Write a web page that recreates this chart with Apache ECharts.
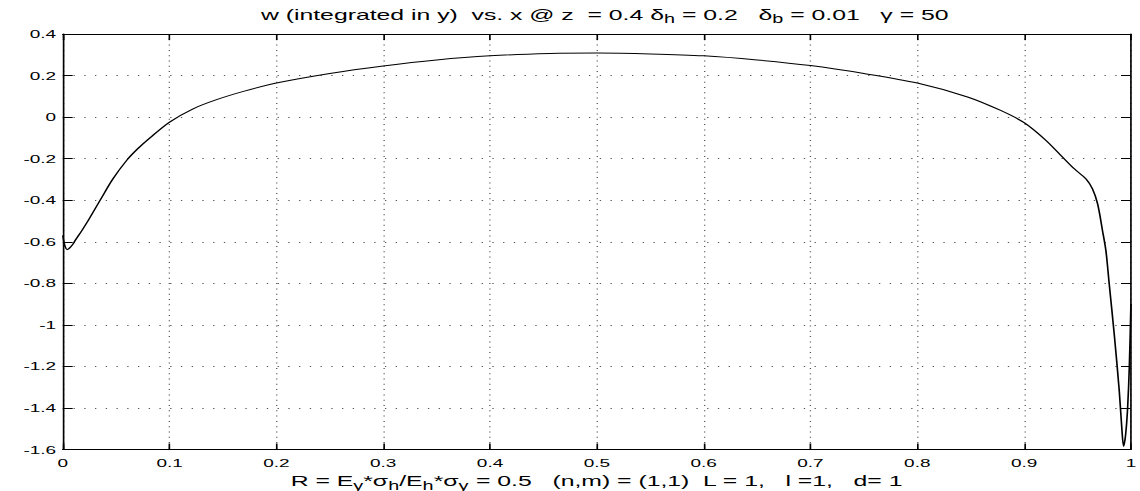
<!DOCTYPE html>
<html>
<head>
<meta charset="utf-8">
<script src="https://cdn.jsdelivr.net/npm/echarts@6/dist/echarts.min.js"></script>
<style>
  html, body { margin: 0; padding: 0; background: #fff; overflow: hidden; }
  /* the reference is a stretched export: draw narrow, then widen */
  #chart { width: 690px; height: 491px; transform: scaleX(1.6522); transform-origin: 0 0; }
</style>
</head>
<body>
<div id="chart"></div>
<script>
// curve
var xs = [0, 0.001, 0.002, 0.004, 0.006, 0.009, 0.0117, 0.018, 0.024, 0.035, 0.047, 0.06, 0.07, 0.0816,
  0.1, 0.122, 0.144, 0.17, 0.2, 0.25, 0.3, 0.35, 0.4, 0.456, 0.5, 0.55, 0.6, 0.65, 0.7, 0.75, 0.8,
  0.847, 0.878, 0.9, 0.92, 0.934, 0.947, 0.958, 0.964, 0.9688, 0.9734, 0.9766, 0.9797, 0.9844,
  0.9891, 0.9915, 0.9931, 0.995, 0.9969, 0.9985, 1];
var ws = [-0.57, -0.60, -0.62, -0.638, -0.632, -0.615, -0.593, -0.545, -0.496, -0.40, -0.297, -0.207, -0.153, -0.10,
  -0.024, 0.040, 0.084, 0.125, 0.164, 0.21, 0.246, 0.275, 0.295, 0.306, 0.308, 0.304, 0.295, 0.275, 0.248, 0.21, 0.164,
  0.097, 0.032, -0.027, -0.11, -0.182, -0.249, -0.298, -0.346, -0.418, -0.547, -0.644, -0.805, -1.046,
  -1.32, -1.50, -1.585, -1.53, -1.40, -1.20, -0.9];
var xTicks = [0, 1, 0.1];
var yTicks = [-1.6, 0.4, 0.2];

var font = 'Liberation Sans, Arial, Helvetica, sans-serif';
var rich = {
  t: { fontSize: 15, fontFamily: font, fontWeight: 'normal', color: '#000' },
  s: { fontSize: 12, fontFamily: font, fontWeight: 'normal', color: '#000', padding: [9, 0, 0, 0] }
};

var chart = echarts.init(document.getElementById('chart'), null, { renderer: 'svg' });
var pts = xs.map(function (x, i) { return [x, ws[i]]; });

function boxAxis(pos, tickLen, range) {
  return {
    type: 'value', position: pos, min: range[0], max: range[1], interval: range[2],
    axisLine: { show: true, onZero: false, lineStyle: { color: '#000', width: 1 } },
    axisTick: { show: true, inside: true, length: tickLen, lineStyle: { color: '#000' } },
    axisLabel: { show: false },
    splitLine: { show: false }
  };
}

chart.setOption({
  animation: false,
  backgroundColor: '#fff',
  title: {
    text: '{t|w (integrated in y)  vs. x @ z  = 0.4 δ}{s|h}{t| = 0.2   δ}{s|b}{t| = 0.01   γ = 50}',
    left: 361, top: -1, textAlign: 'center',
    textStyle: { rich: rich }
  },
  grid: { left: 38, right: 5.5, top: 34, bottom: 41.5, outerBoundsMode: 'none' },
  xAxis: [{
    type: 'value', min: xTicks[0], max: xTicks[1], interval: xTicks[2], position: 'bottom',
    name: '{t|R = E}{s|y}{t|*σ}{s|h}{t|/E}{s|h}{t|*σ}{s|y}{t| = 0.5   (n,m) = (1,1)  L = 1,   l =1,   d= 1}',
    nameLocation: 'middle', nameGap: 19,
    nameTextStyle: { rich: rich },
    axisLine: { show: true, onZero: false, lineStyle: { color: '#000', width: 1 } },
    axisTick: { show: true, inside: true, length: 6, lineStyle: { color: '#000' } },
    axisLabel: { color: '#000', fontSize: 11.5, fontFamily: font, margin: 7 },
    splitLine: { show: true, lineStyle: { color: '#555', width: 0.8, type: [1, 4.3] } }
  }, boxAxis('top', 6, xTicks)],
  yAxis: [{
    type: 'value', min: yTicks[0], max: yTicks[1], interval: yTicks[2], position: 'left',
    axisLine: { show: true, onZero: false, lineStyle: { color: '#000', width: 1 } },
    axisTick: { show: true, inside: true, length: 6, lineStyle: { color: '#000' } },
    axisLabel: { color: '#000', fontSize: 11.5, fontFamily: font, margin: 4 },
    splitLine: { show: true, lineStyle: { color: '#555', width: 1, type: [0.8, 5.7] } }
  }, boxAxis('right', 6, yTicks)],
  series: [{
    type: 'line', xAxisIndex: 0, yAxisIndex: 0,
    data: pts, showSymbol: false, smooth: 0.3,
    lineStyle: { color: '#000', width: 1 }
  }]
});
</script>
</body>
</html>
